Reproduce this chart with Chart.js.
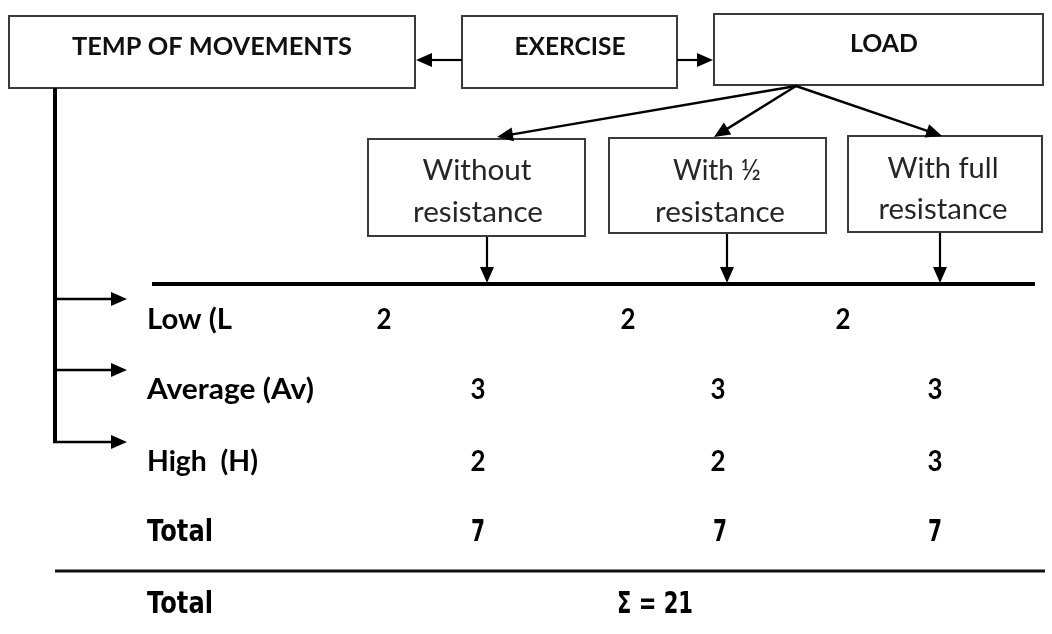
<!DOCTYPE html>
<html><head><meta charset="utf-8">
<script src="https://cdn.jsdelivr.net/npm/chart.js@4"></script>
<style>html,body{margin:0;padding:0;background:#fff;}canvas{display:block;}</style>
</head><body>
<canvas id="c" width="1052" height="634"></canvas>
<script>
// ---------- data ----------
const headerBoxes = ["TEMP OF MOVEMENTS", "EXERCISE", "LOAD"];
const loadLevels = [["Without", "resistance"], ["With ½", "resistance"], ["With full", "resistance"]];
const tempoLevels = ["Low (L", "Average (Av)", "High  (H)"];
const totalLabel = "Total";
const lowValues = [2, 2, 2];
const averageValues = [3, 3, 3];
const highValues = [2, 2, 3];
const totalValues = [7, 7, 7];
const grandTotalText = "\u03A3 = 21";

// ---------- layout (positions in the 0..1052 x 0..634 value space) ----------
const headBoxPos = [
  {x0: 9, y0: 16, x1: 415, y1: 88, tx: 212, ty: 55, tw: 280},
  {x0: 462, y0: 16, x1: 677, y1: 88, tx: 570, ty: 55, tw: 111},
  {x0: 714, y0: 14, x1: 1043, y1: 85, tx: 884, ty: 52, tw: 68}
];
const loadBoxPos = [
  {x0: 368, y0: 139, x1: 585, y1: 236, tx: [477, 478], ty: [180, 222], tw: [109, 130]},
  {x0: 609, y0: 138, x1: 826, y1: 233, tx: [717, 720], ty: [180, 222], tw: [88, 130]},
  {x0: 848, y0: 136, x1: 1042, y1: 232, tx: [943, 943], ty: [178, 219], tw: [111, 129]}
];
const apex = {x: 796, y: 86};
const branchTips = [{x: 497, y: 137}, {x: 714, y: 137}, {x: 942, y: 136}];
const dropX = [487, 727, 940];
const mainLineY = 284, mainLineX = [152, 1035];
const sideX = 55, sideTop = 88, sideArrowEnd = 127;
const rowBase = [329, 399, 471, 541];
const rowLabelX = 147;
const rowLabelW = [85, 167, 111, 66];
const lowX = [384, 628, 843];
const colX = [478, 718, 935];
const totalX = [478, 720, 935];
const bottomLineY = 571, bottomLineX = [55, 1045];
const bottomBase = 613;
const sigmaX = 617, sigmaW = 76;

const F_HEAD = 'bold 25px Lato';
const F_BOX = '28px Lato';
const F_ROW = 'bold 28px Lato';
const F_TOT = 'bold 30px "DejaVu Sans"';

function cells(vals, xs, y) { return vals.map((v, i) => ({x: xs[i], y: y, v: v})); }

const datasets = [
  {label: 'Low', data: cells(lowValues, lowX, rowBase[0]), font: F_ROW, w: 15},
  {label: 'Average', data: cells(averageValues, colX, rowBase[1]), font: F_ROW, w: 15},
  {label: 'High', data: cells(highValues, colX, rowBase[2]), font: F_ROW, w: 15},
  {label: 'Total', data: cells(totalValues, totalX, rowBase[3]), font: F_TOT, w: 14}
].map(d => Object.assign(d, {pointRadius: 0, pointHoverRadius: 0, showLine: false}));

function fitText(ctx, s, x, y, font, w, align, color) {
  ctx.save();
  ctx.font = font;
  ctx.fillStyle = color || '#000';
  ctx.textBaseline = 'alphabetic';
  ctx.textAlign = align;
  const m = ctx.measureText(s).width;
  ctx.translate(x, y);
  ctx.scale(w / m, 1);
  ctx.fillText(s, 0, 0);
  ctx.restore();
}

function arrowHead(ctx, fx, fy, tx, ty, len, half) {
  const a = Math.atan2(ty - fy, tx - fx);
  ctx.beginPath();
  ctx.moveTo(tx, ty);
  ctx.lineTo(tx - len * Math.cos(a) + half * Math.sin(a), ty - len * Math.sin(a) - half * Math.cos(a));
  ctx.lineTo(tx - len * Math.cos(a) - half * Math.sin(a), ty - len * Math.sin(a) + half * Math.cos(a));
  ctx.closePath();
  ctx.fill();
}
function arrow(ctx, fx, fy, tx, ty, lw, len, half) {
  const a = Math.atan2(ty - fy, tx - fx);
  ctx.lineWidth = lw;
  ctx.beginPath();
  ctx.moveTo(fx, fy);
  ctx.lineTo(tx - (len - 2) * Math.cos(a), ty - (len - 2) * Math.sin(a));
  ctx.stroke();
  arrowHead(ctx, fx, fy, tx, ty, len, half);
}

const diagramPlugin = {
  id: 'diagram',
  beforeDatasetsDraw(chart) {
    const ctx = chart.ctx;
    const X = v => chart.scales.x.getPixelForValue(v);
    const Y = v => chart.scales.y.getPixelForValue(v);
    ctx.save();
    ctx.strokeStyle = '#3a3a3a';
    ctx.lineWidth = 2;
    headBoxPos.forEach((b, i) => {
      ctx.strokeRect(X(b.x0), Y(b.y0), X(b.x1) - X(b.x0), Y(b.y1) - Y(b.y0));
      fitText(ctx, headerBoxes[i], X(b.tx), Y(b.ty), F_HEAD, b.tw, 'center', '#111');
    });
    loadBoxPos.forEach((b, i) => {
      ctx.strokeStyle = '#3a3a3a';
      ctx.lineWidth = 2;
      ctx.strokeRect(X(b.x0), Y(b.y0), X(b.x1) - X(b.x0), Y(b.y1) - Y(b.y0));
      loadLevels[i].forEach((t, k) => fitText(ctx, t, X(b.tx[k]), Y(b.ty[k]), F_BOX, b.tw[k], 'center', '#262626'));
    });
    ctx.strokeStyle = '#000';
    ctx.fillStyle = '#000';
    arrow(ctx, X(headBoxPos[1].x0), Y(60), X(headBoxPos[0].x1 + 1), Y(60), 2.2, 16, 7);
    arrow(ctx, X(headBoxPos[1].x1), Y(60), X(headBoxPos[2].x0 - 1), Y(60), 2.2, 16, 7);
    branchTips.forEach(t => arrow(ctx, X(apex.x), Y(apex.y), X(t.x), Y(t.y), 2.4, 16, 7));
    dropX.forEach((x, i) => arrow(ctx, X(x), Y(loadBoxPos[i].y1 + 1), X(x), Y(mainLineY - 1), 2.2, 16, 7));
    ctx.lineWidth = 4;
    ctx.beginPath();
    ctx.moveTo(X(mainLineX[0]), Y(mainLineY));
    ctx.lineTo(X(mainLineX[1]), Y(mainLineY));
    ctx.stroke();
    ctx.beginPath();
    ctx.moveTo(X(sideX), Y(sideTop));
    ctx.lineTo(X(sideX), Y(443));
    ctx.stroke();
    [299, 370, 442].forEach(y => arrow(ctx, X(sideX - 2), Y(y), X(sideArrowEnd), Y(y), 2.4, 16, 7));
    tempoLevels.forEach((t, i) => fitText(ctx, t, X(rowLabelX), Y(rowBase[i]), F_ROW, rowLabelW[i], 'left', '#000'));
    fitText(ctx, totalLabel, X(rowLabelX), Y(rowBase[3]), F_TOT, rowLabelW[3], 'left', '#000');
    ctx.lineWidth = 3;
    ctx.strokeStyle = '#111';
    ctx.beginPath();
    ctx.moveTo(X(bottomLineX[0]), Y(bottomLineY));
    ctx.lineTo(X(bottomLineX[1]), Y(bottomLineY));
    ctx.stroke();
    fitText(ctx, totalLabel, X(rowLabelX), Y(bottomBase), F_TOT, rowLabelW[3], 'left', '#000');
    fitText(ctx, grandTotalText, X(sigmaX), Y(bottomBase), F_TOT, sigmaW, 'left', '#000');
    ctx.restore();
  },
  afterDatasetsDraw(chart) {
    const ctx = chart.ctx;
    chart.data.datasets.forEach((ds, di) => {
      const meta = chart.getDatasetMeta(di);
      meta.data.forEach((el, i) => {
        fitText(ctx, String(ds.data[i].v), el.x, el.y, ds.font, ds.w, 'center', '#000');
      });
    });
  }
};

new Chart(document.getElementById('c'), {
  type: 'scatter',
  data: {datasets: datasets},
  options: {
    responsive: false,
    animation: false,
    devicePixelRatio: 1,
    layout: {padding: 0},
    events: [],
    plugins: {legend: {display: false}, tooltip: {enabled: false}, title: {display: false}},
    scales: {
      x: {type: 'linear', min: 0, max: 1052, display: false},
      y: {type: 'linear', min: 0, max: 634, reverse: true, display: false}
    }
  },
  plugins: [diagramPlugin]
});
</script>
</body></html>
